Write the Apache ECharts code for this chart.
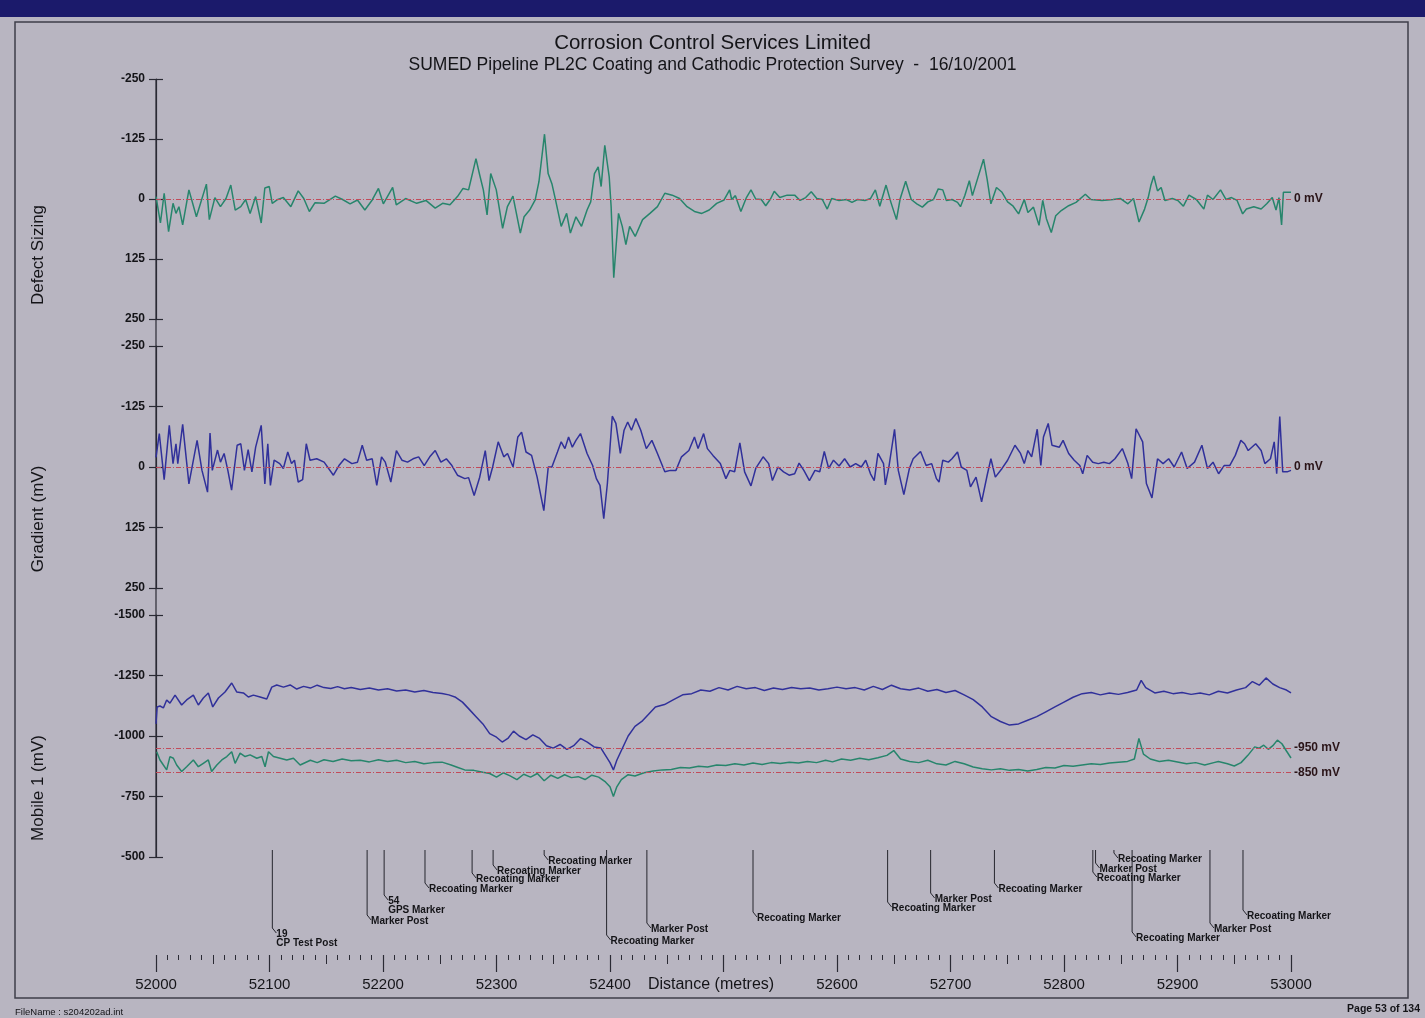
<!DOCTYPE html>
<html><head><meta charset="utf-8">
<script src="https://cdn.jsdelivr.net/npm/echarts/dist/echarts.min.js"></script>
<style>html,body{margin:0;padding:0;background:#b8b5c1;}#c{width:1425px;height:1018px;}</style>
</head><body><div id="c"></div><script>
// ---------- DATA ----------
const distanceOrigin = 52000;           // offsets below are metres from 52000 m
const xTickLabels = [52000,52100,52200,52300,52400,52500,52600,52700,52800,52900,53000];

const defectDist = [0,3.9,7.2,11.1,15,17.6,20.2,23.5,29,35.6,44.4,47,51.9,56.8,61.7,65.9,69.8,74.7,79,82.9,87.8,92.7,95.9,99.8,102.4,107.3,112.2,118.8,125.3,130.2,135.1,140,148,158,164.4,171,177.5,184,190.5,196,200.3,208.5,211.7,219.9,229.7,237.8,246,252.5,259,265.6,270.5,275.4,281.9,285.2,288.4,291.7,294.9,299.8,305.4,309.6,314.5,321,324.3,329.2,334.1,337.4,342.3,345.5,348.8,352,357,361.8,365.1,370,374.9,379.8,383,386.3,389.6,392.2,395.4,399.3,401,403.3,407.5,410.8,414,417.3,422.2,428.7,435.2,441.8,448.3,454.8,461.3,467.9,474.4,480.9,487.4,494,500.5,505.4,
 507.2,510.5,515.3,520.2,524.2,528.4,533.3,537.2,541.4,544.7,549.6,556.1,562.7,567.5,572.4,577.3,582.2,587.1,591.4,595.3,601.8,608.3,613.2,618.1,624.6,629.5,633.8,637.7,643.2,647.5,652.4,655.6,660.5,665.4,670.3,675.2,680.1,685,689.2,693.2,696.4,701.3,706.2,708.8,712.7,716.6,719.3,724.2,729.1,732.3,735.6,740.5,745.4,750.3,755.2,760,765,768.2,773.1,778,781.3,784.5,788.8,792.7,797.6,804.1,810.6,818.8,823.7,833.5,843.2,849.8,856.3,861.2,866.1,871,874.2,876.5,879.1,882.4,885.6,888.9,895.4,900.3,905.2,910.1,916.6,923.2,926.4,931.3,937.9,942.7,947.6,952.5,957.4,960.7,967.2,973.7,978.6,983.5,986.8,989.4,991.7,993.3,995.6,1000];
const defectVal = [-5,50,-12,68,9,30,16,54,-19,37,-31,43,-3,16,-1,-29,23,16,1,30,-5,50,-23,-26,9,1,-3,16,-17,-1,26,8,9,-6,1,10,2,23,2,-22,10,-24,12,-1,9,3,19,9,12,-5,-22,-19,-84,-50,-19,33,-53,-19,61,16,-6,71,37,23,2,-36,-135,-53,-32,2,57,30,71,37,57,23,6,-53,-67,-26,-112,-46,16,164,30,57,95,57,78,43,30,16,-12,-8,-1,16,26,30,23,9,2,-19,
 1,-7,26,-3,-19,0,1,14,0,-16,-3,-8,-8,3,-3,-15,-1,1,21,-1,3,1,7,1,3,-1,-19,15,-29,7,43,0,-37,1,10,17,6,1,-21,-19,3,1,7,16,-8,-38,-7,-45,-83,-41,10,-24,-14,6,15,31,1,28,17,55,3,41,70,35,24,14,7,-10,1,3,1,-1,10,-1,48,21,-3,-28,-48,-17,-24,3,-1,3,15,-8,1,21,-8,1,-19,1,-3,3,31,21,16,21,10,-3,23,-3,54,-14,-14,-14];

const gradientDist = [0,2.9,7.2,11.7,15,17.6,19.2,23.5,29,36.2,40.5,45.4,47.6,49.6,54.2,56.8,60,63.3,66.6,71.5,74.7,77.9,81.2,84.5,87.8,92.7,95.9,98.5,100.8,104.1,109,112.2,116.1,119.4,122,125.3,129.2,132.4,135.7,141.6,148.1,156.3,161.2,166.1,172.6,177.5,181.7,185.6,190.5,194.5,198.7,202,206.9,211.8,216.7,221.6,226.5,231.4,236.3,241.2,246,251,255.8,260.7,265.6,272.1,275.4,280.3,285.2,290.1,293.4,296.6,301.5,306.4,309.7,314.6,318.8,322.1,326,330.9,335.8,341.7,345.6,348.8,353.7,357,360.3,363.5,366.8,370,374,379.8,384.7,388,391.2,394.5,397.7,402,405.2,409.1,412.4,415.6,418.9,422.8,427.1,432,436.9,441.8,448.3,453.2,458.1,463,469.5,474.4,477.6,482.5,485.8,490.7,497.2,502.1,
 505.6,509.8,514.4,518.6,524.2,528.4,534.9,539.8,543.1,548,552.9,557.8,562.7,566.6,570.8,575.7,580.6,584.8,588.8,592.7,596.9,601.8,606.7,611.6,616.5,621.4,625.3,629.5,632.8,636.1,641,642.6,645.9,650.7,654,658.9,663.8,667.1,673.6,678.5,683.4,687.6,689.9,693.2,698.1,701.3,706.2,709.5,714.4,717.6,722.5,727.4,732.3,735.6,739.5,745.4,750.3,756.8,761.7,765,768.2,771.5,776.4,779.6,781.9,786.1,789.4,795.9,799.2,804.1,809,813.9,816.5,820.4,825.3,830.2,835.1,840,844.9,851.4,856.3,859.6,863.5,869.3,872.6,877.5,882.4,887.3,892.2,897.1,903.6,908.5,915,921.5,926.4,931.3,936.2,941.1,946,950.9,955.8,959.1,962.3,968.9,973.7,977,981.9,985.2,987.4,990.1,992.7,996.6,1000];
const gradientVal = [-20,-69,26,-86,-7,-48,-7,-88,35,-55,7,52,-70,7,-35,-10,-28,7,48,-45,-48,7,-36,10,-41,-86,35,-48,38,-14,-7,3,-31,-7,-14,31,26,-48,-14,-17,-10,17,-3,-17,-7,-10,-45,-14,-17,38,-21,-10,31,-34,-14,-10,-17,-21,-3,-21,-34,-10,-17,-3,17,24,22,59,21,-34,28,0,-52,-21,-28,0,-62,-72,-31,-24,21,90,0,0,-31,-52,-38,-62,-41,-55,-69,-28,-3,24,38,107,34,-105,-90,-28,-76,-93,-76,-100,-76,-38,-55,-28,10,7,7,-21,-34,-62,-38,-69,-38,-24,-7,24,
 7,10,-50,10,39,3,-21,-7,28,0,10,17,14,-8,7,28,7,10,-32,3,-14,-2,-17,0,-7,0,-14,14,28,-28,-7,37,-3,-78,7,57,3,-17,-32,-3,-7,24,31,-14,-10,-17,-31,0,7,41,21,72,17,-17,21,3,-14,-45,-28,-7,-34,-21,-78,-3,-62,-90,-45,-41,-55,-28,-14,-3,14,-24,-10,-7,-10,-7,-17,-38,-7,24,-79,-52,34,64,-17,-7,-17,0,-31,3,-10,-45,3,-10,14,-3,-3,-24,-55,-48,-34,-48,-34,-7,-17,-52,14,-104,10,10,7];

const mobileBlueDist = [0,1,3.5,6.5,9.4,12.3,16.8,22.6,27,32.9,37.3,41.7,46.1,50,55,60.8,66.7,71.1,77,81.4,85.8,91.7,97.6,102,106.4,112.3,118.2,124,130,136,142,148,154,160,166,172,180,188,196,204,212,220,228,236,244,252,258,264,270,276,282,288,294,300,305,310,315,320,326,332,338,344,350,356,362,368,374,380,386,392,396,400,403,406,410,416,422,428,434,440,448,456,464,472,480,488,496,504,512,520,528,536,544,552,560,568,576,584,592,600,608,616,624,632,640,648,656,664,672,680,688,696,704,712,720,728,736,744,752,760,768,776,784,792,800,808,816,824,832,840,848,856,864,868,872,880,888,896,904,912,920,928,936,944,952,960,966,972,978,984,990,996,1000];
const mobileBlueVal = [-1050,-1120,-1124,-1116,-1149,-1136,-1169,-1128,-1149,-1169,-1128,-1157,-1178,-1120,-1157,-1182,-1219,-1182,-1178,-1161,-1169,-1161,-1153,-1202,-1211,-1202,-1211,-1194,-1205,-1198,-1210,-1200,-1196,-1204,-1195,-1200,-1192,-1198,-1190,-1195,-1186,-1190,-1182,-1188,-1180,-1176,-1170,-1160,-1140,-1110,-1080,-1050,-1010,-995,-975,-990,-1020,-1000,-985,-1005,-990,-960,-950,-965,-945,-960,-990,-975,-955,-950,-920,-890,-860,-900,-940,-1000,-1040,-1060,-1090,-1120,-1130,-1150,-1170,-1175,-1190,-1185,-1200,-1190,-1205,-1195,-1200,-1188,-1198,-1192,-1200,-1195,-1198,-1190,-1195,-1202,-1195,-1200,-1190,-1205,-1192,-1210,-1195,-1190,-1198,-1185,-1192,-1180,-1188,-1170,-1150,-1120,-1080,-1060,-1045,-1050,-1065,-1080,-1100,-1120,-1140,-1160,-1175,-1180,-1170,-1178,-1172,-1180,-1190,-1230,-1200,-1178,-1185,-1175,-1180,-1172,-1178,-1170,-1185,-1178,-1190,-1200,-1225,-1210,-1240,-1215,-1200,-1190,-1178];

const mobileGreenDist = [0.6,3.5,6.5,9.4,12.3,15.3,18.2,22.6,27,32.9,37.3,41.7,46.1,49,53.6,58,62.4,66.7,69.7,74.1,78.5,82.9,88.8,93.2,96.1,99.1,103.5,109.4,115.2,121.1,127,136,142,148,156,164,172,180,188,196,204,212,220,228,236,244,252,260,266,272,280,288,294,300,306,312,318,324,330,336,342,348,354,360,366,372,378,384,390,396,400,403,406,410,416,422,430,438,446,454,462,470,478,486,494,502,510,518,526,534,542,550,558,566,574,582,590,596,604,612,620,628,636,644,650,656,664,672,680,688,696,704,712,720,728,736,744,752,760,768,776,784,792,800,808,816,824,832,840,848,856,862,866,870,876,884,892,900,908,916,924,932,936,944,950,956,962,968,972,976,980,984,988,992,996,1000];
const mobileGreenVal = [-935,-901,-880,-860,-915,-908,-880,-853,-873,-901,-873,-887,-901,-853,-880,-901,-915,-935,-887,-929,-915,-922,-908,-915,-873,-935,-915,-908,-901,-908,-880,-900,-890,-902,-895,-905,-898,-900,-893,-902,-895,-900,-890,-895,-885,-890,-892,-880,-870,-860,-858,-850,-845,-830,-848,-835,-820,-842,-830,-845,-815,-838,-825,-840,-828,-832,-820,-838,-830,-810,-790,-750,-790,-820,-840,-835,-848,-855,-860,-862,-870,-868,-875,-872,-880,-878,-885,-880,-888,-882,-890,-886,-892,-888,-895,-890,-900,-893,-905,-900,-908,-902,-910,-920,-940,-905,-895,-890,-900,-885,-880,-895,-885,-872,-865,-860,-865,-858,-862,-855,-862,-870,-868,-878,-875,-880,-885,-882,-888,-892,-895,-905,-990,-925,-905,-895,-900,-893,-885,-890,-880,-890,-895,-885,-876,-890,-920,-955,-950,-962,-945,-960,-983,-968,-938,-909];

const markerDist = [102.5,186,201,237,278.5,297,342,397,432.5,526,644.6,682.5,738.7,825.4,827.8,844,860,928.6,957.7];
const markerText = ['19\nCP Test Post','Marker Post','54\nGPS Marker','Recoating Marker','Recoating Marker','Recoating Marker','Recoating Marker','Recoating Marker','Marker Post','Recoating Marker','Recoating Marker','Marker Post','Recoating Marker','Recoating Marker','Marker Post','Recoating Marker','Recoating Marker','Marker Post','Recoating Marker'];

const refLevels = { defect: [0], gradient: [0], mobile: [-950, -850] };

// ---------- LAYOUT / STYLE ----------
const markerDrop = [81,68,48,36,26,18,8,88,76,65,55,46,36,25,16,6,85,76,63]; // px lane depth of each annotation
const FONT = '"Liberation Sans", Arial, sans-serif';
const GL = 156, GR = 134;
const panels = [{top:79,h:240},{top:346,h:242},{top:615,h:242}];
const MK = {top:847,h:108};
const GREEN = '#27856c', BLUE = '#30309a', REF = '#c24a5a', INK = '#141418';

const pairs = (ds, vs) => ds.map((d, i) => [distanceOrigin + d, vs[i]]);

function yMain(gi, min, max, interval) {
  return {type:'value', gridIndex:gi, position:'left', inverse:true, min, max, interval,
    axisLine:{show:true, lineStyle:{color:'#2a2a34', width:1.2}},
    axisTick:{show:true, length:7, lineStyle:{color:'#2a2a34', width:1.2}},
    axisLabel:{margin:11, color:INK, fontSize:12, fontWeight:'bold', fontFamily:FONT, formatter: v => String(v)},
    splitLine:{show:false}};
}
function yInner(gi, min, max, interval) {
  return {type:'value', gridIndex:gi, position:'left', inverse:true, min, max, interval,
    axisLine:{show:false}, axisTick:{show:true, inside:true, length:7, lineStyle:{color:'#2a2a34', width:1.2}},
    axisLabel:{show:false}, splitLine:{show:false}};
}
function hiddenX(gi) {
  return {type:'value', gridIndex:gi, min:52000, max:53000, show:false};
}
function refLine(levels, labels) {
  return {symbol:'none', silent:true, animation:false,
    lineStyle:{color:REF, width:1, type:[5,2,1,2]},
    label:{position:'end', distance:3, color:'#2a1418', fontSize:12, fontWeight:'bold', fontFamily:FONT,
      formatter: p => labels[levels.indexOf(p.value)]},
    data: levels.map(v => ({yAxis:v}))};
}

const chart = echarts.init(document.getElementById('c'), null, {renderer:'canvas'});
const gridBase = {left:GL, right:GR, containLabel:false, outerBoundsMode:'none'};

const option = {
  backgroundColor:'#b8b5c1',
  animation:false,
  title:[
    {text:'Corrosion Control Services Limited', left:'center', top:28,
     textStyle:{fontSize:20.5, fontWeight:'normal', color:INK, fontFamily:FONT}},
    {text:'SUMED Pipeline PL2C Coating and Cathodic Protection Survey  -  16/10/2001', left:'center', top:51,
     textStyle:{fontSize:17.5, fontWeight:'normal', color:INK, fontFamily:FONT}}
  ],
  grid:[
    Object.assign({top:panels[0].top, height:panels[0].h}, gridBase),
    Object.assign({top:panels[1].top, height:panels[1].h}, gridBase),
    Object.assign({top:panels[2].top, height:panels[2].h}, gridBase),
    Object.assign({top:MK.top, height:MK.h}, gridBase),
    Object.assign({top:MK.top, height:MK.h}, gridBase)
  ],
  xAxis:[
    hiddenX(0), hiddenX(1), hiddenX(2),
    {type:'value', gridIndex:3, min:52000, max:53000, interval:100, position:'bottom',
      axisLine:{show:false, onZero:false},
      axisTick:{show:true, length:17, lineStyle:{color:'#2a2a34', width:1.2}},
      minorTick:{show:true, splitNumber:10, length:5, lineStyle:{color:'#2a2a34', width:1}},
      axisLabel:{margin:22, color:INK, fontSize:15, fontFamily:FONT,
        formatter: v => (xTickLabels.includes(v) && v !== 52500) ? String(v) : ''},
      splitLine:{show:false}, minorSplitLine:{show:false}},
    {type:'value', gridIndex:4, min:52000, max:53000, interval:50, position:'bottom',
      axisLine:{show:false, onZero:false}, axisTick:{show:true, length:9, lineStyle:{color:'#2a2a34', width:1}},
      axisLabel:{show:false}, splitLine:{show:false}}
  ],
  yAxis:[
    yMain(0,-250,250,125), yInner(0,-250,250,125),
    yMain(1,-250,250,125), yInner(1,-250,250,125),
    yMain(2,-1500,-500,250), yInner(2,-1500,-500,250),
    {type:'value', gridIndex:3, min:0, max:MK.h, inverse:true, show:false},
    {type:'value', gridIndex:4, min:0, max:MK.h, inverse:true, show:false}
  ],
  series:[
    {type:'line', name:'Defect Sizing', xAxisIndex:0, yAxisIndex:0, data:pairs(defectDist, defectVal),
      showSymbol:false, symbol:'none', lineStyle:{color:GREEN, width:1.5},
      markLine: refLine(refLevels.defect, ['0 mV'])},
    {type:'line', name:'Gradient', xAxisIndex:1, yAxisIndex:2, data:pairs(gradientDist, gradientVal),
      showSymbol:false, symbol:'none', lineStyle:{color:BLUE, width:1.5},
      markLine: refLine(refLevels.gradient, ['0 mV'])},
    {type:'line', name:'Mobile 1 A', xAxisIndex:2, yAxisIndex:4, data:pairs(mobileBlueDist, mobileBlueVal),
      showSymbol:false, symbol:'none', lineStyle:{color:BLUE, width:1.5},
      markLine: refLine(refLevels.mobile, ['-950 mV','-850 mV'])},
    {type:'line', name:'Mobile 1 B', xAxisIndex:2, yAxisIndex:4, data:pairs(mobileGreenDist, mobileGreenVal),
      showSymbol:false, symbol:'none', lineStyle:{color:GREEN, width:1.5}},
    {type:'custom', name:'Markers', xAxisIndex:3, yAxisIndex:6, clip:false,
      data: markerDist.map((d, i) => [distanceOrigin + d, markerDrop[i]]),
      renderItem: (params, api) => {
        const top = api.coord([api.value(0), 0]);
        const end = api.coord([api.value(0), api.value(1)]);
        return {type:'group', children:[
          {type:'polyline', shape:{points:[[top[0], top[1]+3], end, [end[0]+4, end[1]+5]]},
            style:{stroke:'#26262e', lineWidth:1, fill:null}},
          {type:'text', style:{text:markerText[params.dataIndex], x:end[0]+4, y:end[1]+1,
            fill:INK, font:'bold 10px ' + FONT, lineHeight:9.5, align:'left', verticalAlign:'top'}}
        ]};
      }}
  ],
  graphic:{elements:[
    {type:'rect', shape:{x:0, y:0, width:1425, height:17}, style:{fill:'#1b1a6b'}, z:-1},
    {type:'rect', shape:{x:15, y:22, width:1393, height:976}, style:{fill:null, stroke:'#3e3e4a', lineWidth:1.5}},
    {type:'line', shape:{x1:GL, y1:panels[0].top, x2:GL, y2:panels[2].top+panels[2].h},
      style:{stroke:'#2a2a34', lineWidth:1.2}},
    {type:'text', x:38, y:panels[0].top+panels[0].h/2+56, rotation:Math.PI/2,
      style:{text:'Defect Sizing', fill:INK, font:'17px '+FONT, align:'center', verticalAlign:'middle'}},
    {type:'text', x:38, y:panels[1].top+panels[1].h/2+52, rotation:Math.PI/2,
      style:{text:'Gradient (mV)', fill:INK, font:'17px '+FONT, align:'center', verticalAlign:'middle'}},
    {type:'text', x:38, y:panels[2].top+panels[2].h/2+52, rotation:Math.PI/2,
      style:{text:'Mobile 1 (mV)', fill:INK, font:'17px '+FONT, align:'center', verticalAlign:'middle'}},
    {type:'text', x:711, y:985, style:{text:'Distance (metres)', fill:INK, font:'16px '+FONT, align:'center', verticalAlign:'middle'}},
    {type:'text', x:15, y:1012, style:{text:'FileName : s204202ad.int', fill:INK, font:'9.5px '+FONT, align:'left', verticalAlign:'middle'}},
    {type:'text', x:1420, y:1009, style:{text:'Page 53 of 134', fill:INK, font:'bold 10.5px '+FONT, align:'right', verticalAlign:'middle'}}
  ]}
};
chart.setOption(option);
</script></body></html>
